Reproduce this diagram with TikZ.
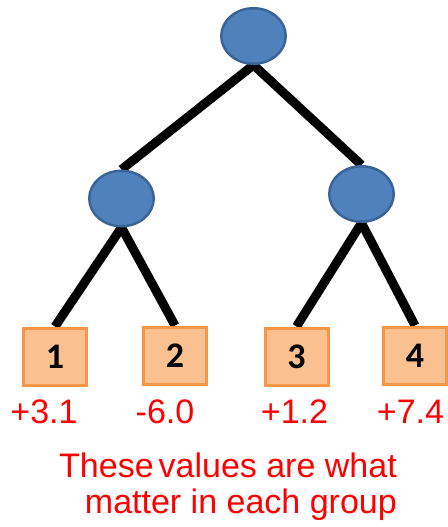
\documentclass[tikz,border=0pt]{standalone}
\usepackage{fontspec}
\setmainfont{Liberation Sans}
\newfontfamily\labelfont{Carlito}
\usetikzlibrary{shapes.geometric,backgrounds}

\definecolor{nodeblue}{HTML}{4F81BD}
\definecolor{nodeedge}{HTML}{3A6497}
\definecolor{leaffill}{HTML}{FAC090}
\definecolor{leafedge}{HTML}{F79646}
\definecolor{valred}{HTML}{FF0000}

\tikzset{
  inner/.style={ellipse, fill=nodeblue, draw=nodeedge, line width=2.5pt,
    minimum width=64.5pt, minimum height=55.5pt, inner sep=0pt},
  leaf/.style={rectangle, fill=leaffill, draw=leafedge, line width=3pt,
    minimum width=63pt, minimum height=57pt, inner sep=0pt,
    font=\labelfont\bfseries\fontsize{36}{36}\selectfont},
  branch/.style={line width=9pt, black},
  value/.style={anchor=base, text=valred, inner sep=0pt,
    font=\fontsize{34}{34}\selectfont},
  caption/.style={anchor=base east, text=valred, inner sep=0pt,
    font=\fontsize{34}{34}\selectfont}
}

\begin{document}
\begin{tikzpicture}[x=1pt, y=-1pt]
  \useasboundingbox (0,0) rectangle (447,527);

  % tree nodes
  \node[inner] (root) at (253.5,36) {};
  \node[inner] (left) at (121.5,198.5) {};
  \node[inner] (right) at (361.5,194) {};

  \node[leaf] (l1) at (55,356.5) {1};
  \node[leaf] (l2) at (175,355.5) {2};
  \node[leaf] (l3) at (296.5,356.5) {3};
  \node[leaf] (l4) at (415,355.5) {4};

  % branches, drawn under the nodes
  \begin{scope}[on background layer]
    \draw[branch] (root.south) -- (left.north);
    \draw[branch] (root.south) -- (right.north);
    \draw[branch] (left.south) -- (l1.north);
    \draw[branch] (left.south) -- (l2.north);
    \draw[branch] (right.south) -- (l3.north);
    \draw[branch] (right.south) -- (l4.north);
  \end{scope}

  % values at the leaves
  \node[value] (v1) at (44,423) {+3.1};
  \node[value] (v2) at (165,423) {-6.0};
  \node[value] (v3) at (294.5,423) {+1.2};
  \node[value] (v4) at (410.5,423) {+7.4};

  % caption
  \node[caption] (c1) at (397,477) {These\hspace{5pt}values are what};
  \node[caption] (c2) at (397,513) {matter in each group};
\end{tikzpicture}
\end{document}
